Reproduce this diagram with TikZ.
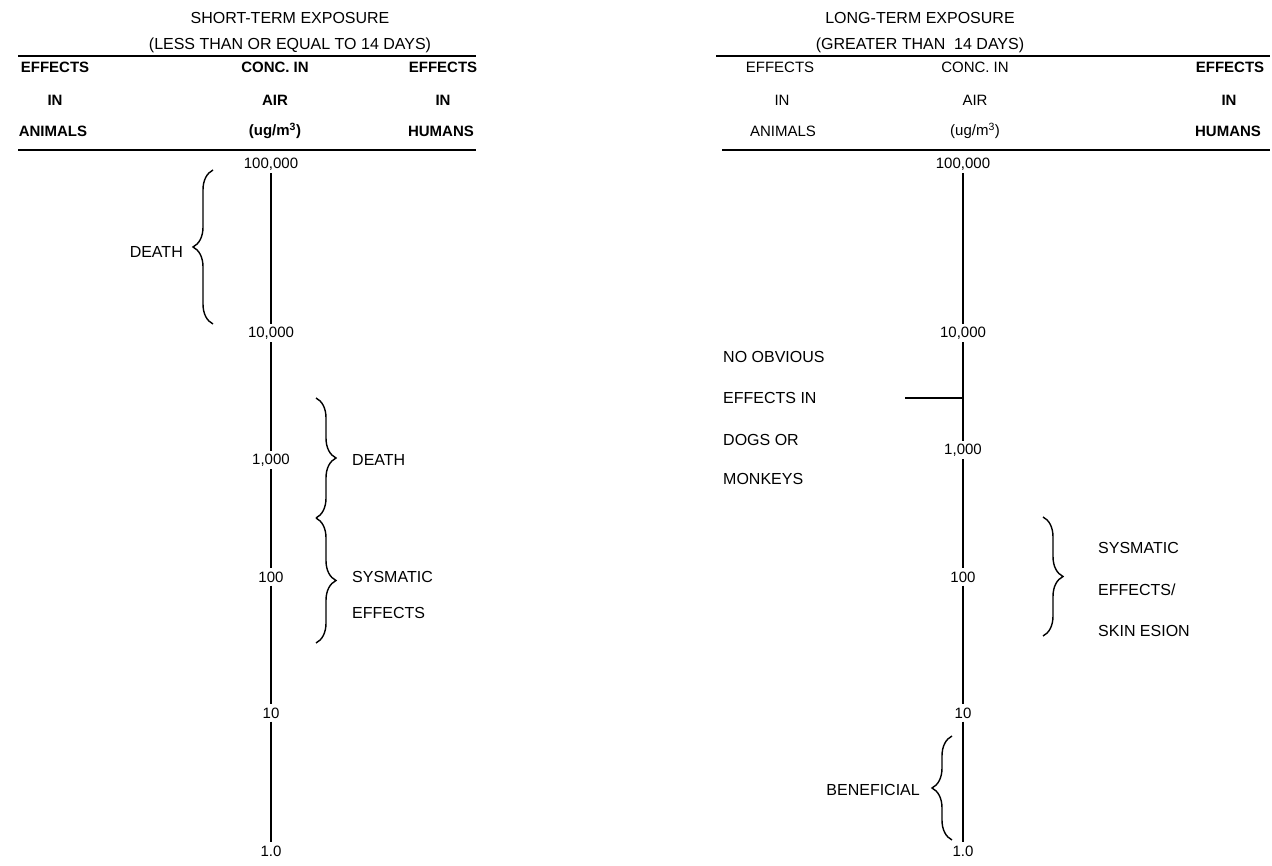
\documentclass[tikz,border=0pt]{standalone}
\usepackage{fontspec}
\setmainfont{Liberation Sans}
\usetikzlibrary{decorations.pathreplacing}
\begin{document}
\begin{tikzpicture}[x=1pt,y=-1pt,
  every node/.style={inner sep=0pt},
  ttl/.style={font=\fontsize{16}{19}\selectfont},
  hdb/.style={font=\fontsize{15}{18}\selectfont\bfseries},
  hdn/.style={font=\fontsize{15}{18}\selectfont},
  lbl/.style={font=\fontsize{16}{19}\selectfont},
  val/.style={font=\fontsize{15}{18}\selectfont, inner sep=3pt},
  rule/.style={line width=1.4pt},
  axisline/.style={line width=1.8pt},
  brc/.style={line width=1.4pt, decorate, decoration={brace, amplitude=20pt}}]
\fill[white] (0,0) rectangle (1272,866);
\useasboundingbox (0,0) rectangle (1272,866);

% ---------- left section ----------
\node[ttl] (lt1) at (290,18) {SHORT-TERM EXPOSURE};
\node[ttl] (lt2) at (290,45) {(LESS THAN OR EQUAL TO 14 DAYS)};
\coordinate (lr1a) at (18,56); \coordinate (lr1b) at (476,56);
\draw[rule] (lr1a) -- (lr1b);
\node[hdb] (lh11) at (55,67) {EFFECTS};
\node[hdb] (lh12) at (275,67) {CONC. IN};
\node[hdb] (lh13) at (443,67) {EFFECTS};
\node[hdb] (lh21) at (55,100) {IN};
\node[hdb] (lh22) at (275,100) {AIR};
\node[hdb] (lh23) at (443,100) {IN};
\node[hdb] (lh31) at (53,131) {ANIMALS};
\node[hdb] (lh32) at (275,131) {(ug/m\textsuperscript{3})};
\node[hdb] (lh33) at (441,131) {HUMANS};
\coordinate (lr2a) at (18,150); \coordinate (lr2b) at (476,150);
\draw[rule] (lr2a) -- (lr2b);

\node[val] (La) at (271,164) {100,000};
\node[val] (Lb) at (271,333) {10,000};
\node[val] (Lc) at (271,460) {1,000};
\node[val] (Ld) at (271,577) {100};
\node[val] (Le) at (271,713) {10};
\node[val] (Lf) at (271,851) {1.0};
\draw[axisline] (La) -- (Lb);
\draw[axisline] (Lb) -- (Lc);
\draw[axisline] (Lc) -- (Ld);
\draw[axisline] (Ld) -- (Le);
\draw[axisline] (Le) -- (Lf);

\draw[brc] (213,324) -- (213,170);
\node[lbl, anchor=east] (ldeath) at (183,252) {DEATH};
\draw[brc] (316,398) -- (316,518);
\node[lbl, anchor=west] (rdeath) at (352,460) {DEATH};
\draw[brc] (316,518) -- (316,643);
\node[lbl, anchor=west] (rsys) at (352,577) {SYSMATIC};
\node[lbl, anchor=west] (reff) at (352,613) {EFFECTS};

% ---------- right section ----------
\node[ttl] (rt1) at (920,18) {LONG-TERM EXPOSURE};
\node[ttl] (rt2) at (920,45) {(GREATER THAN\ \ 14 DAYS)};
\coordinate (rr1a) at (716,56); \coordinate (rr1b) at (1270,56);
\draw[rule] (rr1a) -- (rr1b);
\node[hdn] (rh11) at (780,67) {EFFECTS};
\node[hdn] (rh12) at (975,67) {CONC. IN};
\node[hdb] (rh13) at (1230,67) {EFFECTS};
\node[hdn] (rh21) at (782,100) {IN};
\node[hdn] (rh22) at (975,100) {AIR};
\node[hdb] (rh23) at (1229,100) {IN};
\node[hdn] (rh31) at (783,131) {ANIMALS};
\node[hdn] (rh32) at (975,131) {(ug/m\textsuperscript{3})};
\node[hdb] (rh33) at (1228,131) {HUMANS};
\coordinate (rr2a) at (722,150); \coordinate (rr2b) at (1270,150);
\draw[rule] (rr2a) -- (rr2b);

\node[val] (Ra) at (963,164) {100,000};
\node[val] (Rb) at (963,333) {10,000};
\node[val] (Rc) at (963,450) {1,000};
\node[val] (Rd) at (963,577) {100};
\node[val] (Re) at (963,713) {10};
\node[val] (Rf) at (963,851) {1.0};
\draw[axisline] (Ra) -- (Rb);
\draw[axisline] (Rb) -- (Rc);
\draw[axisline] (Rc) -- (Rd);
\draw[axisline] (Rd) -- (Re);
\draw[axisline] (Re) -- (Rf);

\node[lbl, anchor=west] (no1) at (723,357) {NO OBVIOUS};
\node[lbl, anchor=west] (no2) at (723,398) {EFFECTS IN};
\node[lbl, anchor=west] (no3) at (723,440) {DOGS OR};
\node[lbl, anchor=west] (no4) at (723,479) {MONKEYS};
\coordinate (hs) at (905,398); \coordinate (hj) at (963,398);
\draw[rule] (hs) -- (hj);

\draw[brc] (1043,517) -- (1043,636);
\node[lbl, anchor=west] (s1) at (1098,548) {SYSMATIC};
\node[lbl, anchor=west] (s2) at (1098,590) {EFFECTS/};
\node[lbl, anchor=west] (s3) at (1098,631) {SKIN ESION};

\draw[brc] (952,840) -- (952,736);
\node[lbl, anchor=east] (ben) at (920,790) {BENEFICIAL};
\end{tikzpicture}
\end{document}
